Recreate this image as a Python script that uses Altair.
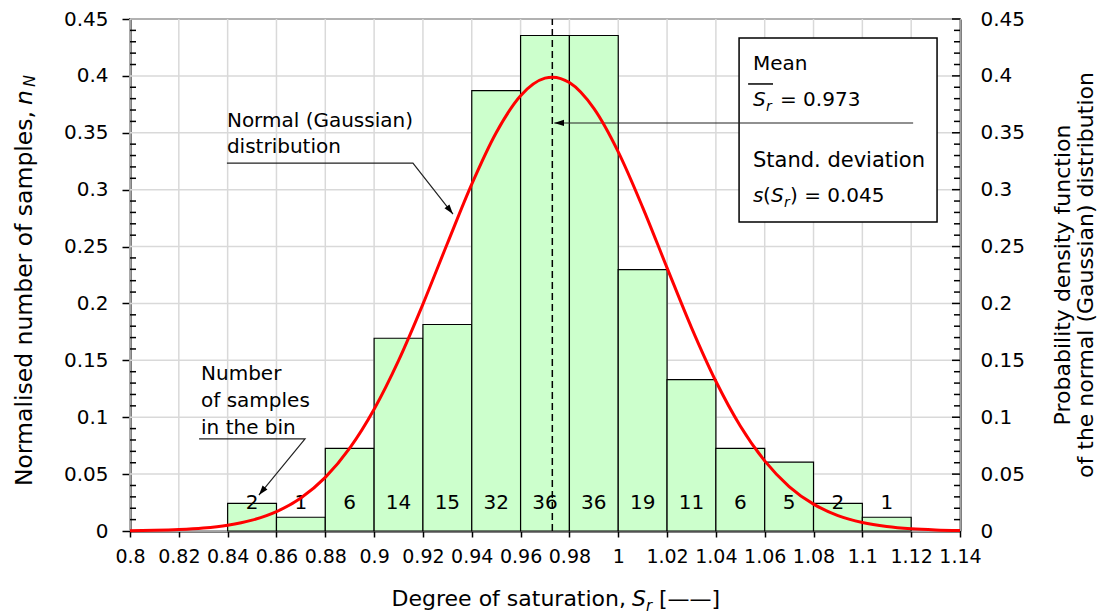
import altair as alt
import pandas as pd

FONT = "DejaVu Sans"

# ---------------- data ----------------
bin_start = [0.84, 0.86, 0.88, 0.90, 0.92, 0.94, 0.96, 0.98, 1.00, 1.02, 1.04, 1.06, 1.08, 1.10]
bin_end = [0.86, 0.88, 0.90, 0.92, 0.94, 0.96, 0.98, 1.00, 1.02, 1.04, 1.06, 1.08, 1.10, 1.12]
bin_count = [2, 1, 6, 14, 15, 32, 36, 36, 19, 11, 6, 5, 2, 1]
bin_norm = [0.0242, 0.0121, 0.0726, 0.1694, 0.1815, 0.3871, 0.4355, 0.4355,
            0.2298, 0.1331, 0.0726, 0.0605, 0.0242, 0.0121]

pdf_x = [0.80, 0.81, 0.82, 0.83, 0.84, 0.85, 0.86, 0.87, 0.88, 0.89, 0.90, 0.91,
         0.92, 0.93, 0.94, 0.95, 0.96, 0.97, 0.973, 0.98, 0.99, 1.00, 1.01, 1.02,
         1.03, 1.04, 1.05, 1.06, 1.07, 1.08, 1.09, 1.10, 1.11, 1.12, 1.13, 1.14]
pdf_y = [0.00025, 0.00056, 0.00123, 0.00255, 0.00506, 0.00953, 0.01704, 0.02903,
         0.0471, 0.0728, 0.107, 0.1497, 0.1994, 0.2527, 0.3049, 0.3501, 0.3826,
         0.3980, 0.3989, 0.3941, 0.3714, 0.3332, 0.2845, 0.2313, 0.1788, 0.1316,
         0.0923, 0.0616, 0.0391, 0.0236, 0.01357, 0.00744, 0.00388, 0.00192,
         0.00091, 0.00041]

mean_sr = 0.973
count_label_y = 0.0246

x_ticks = [0.80, 0.82, 0.84, 0.86, 0.88, 0.90, 0.92, 0.94, 0.96, 0.98, 1.00,
           1.02, 1.04, 1.06, 1.08, 1.10, 1.12, 1.14]
y_ticks = [0.0, 0.05, 0.10, 0.15, 0.20, 0.25, 0.30, 0.35, 0.40, 0.45]
y_minor = [0.01, 0.02, 0.03, 0.04, 0.06, 0.07, 0.08, 0.09, 0.11, 0.12, 0.13, 0.14,
           0.16, 0.17, 0.18, 0.19, 0.21, 0.22, 0.23, 0.24, 0.26, 0.27, 0.28, 0.29,
           0.31, 0.32, 0.33, 0.34, 0.36, 0.37, 0.38, 0.39, 0.41, 0.42, 0.43, 0.44]

# annotations, in data coordinates
note_text = ["Normal (Gaussian)", "distribution", "Number", "of samples", "in the bin"]
note_x = [0.8397, 0.8397, 0.8291, 0.8291, 0.8291]
note_y = [0.3551, 0.3322, 0.1327, 0.1090, 0.0853]

leader_x = [0.8397, 0.9159, 0.9323, 0.8283, 0.8717, 0.8528, 1.1208, 0.9738]
leader_y = [0.3234, 0.3234, 0.2786, 0.0809, 0.0809, 0.0316, 0.3586, 0.3586]
leader_grp = [0, 0, 0, 1, 1, 1, 2, 2]

arrow_x = [0.9323, 0.8528, 0.9738]
arrow_y = [0.2786, 0.0316, 0.3586]
arrow_ang = [232, 309, 0]

box_x = [1.0495, 1.1306]
box_y = [0.2716, 0.4333]
box_text_x = 1.0552
box_line_y = [0.4052, 0.3735, 0.3199, 0.2892]
overline_x = [1.0532, 1.0634]
overline_y = 0.3929

# ---------------- tables ----------------
hist = pd.DataFrame({"start": bin_start, "end": bin_end, "count": bin_count, "norm": bin_norm})
pdf = pd.DataFrame({"x": pdf_x, "y": pdf_y})
mean_df = pd.DataFrame({"m": [mean_sr]})
xgrid_df = pd.DataFrame({"v": x_ticks})
minor_df = pd.DataFrame({"v": y_minor})
major_df = pd.DataFrame({"v": y_ticks})
notes = pd.DataFrame({"t": note_text, "x": note_x, "y": note_y})
leaders = pd.DataFrame({"x": leader_x, "y": leader_y, "g": leader_grp,
                        "o": list(range(len(leader_x)))})
arrows = pd.DataFrame({"x": arrow_x, "y": arrow_y, "a": arrow_ang})
box = pd.DataFrame({"x0": [box_x[0]], "x1": [box_x[1]], "y0": [box_y[0]], "y1": [box_y[1]]})
overline = pd.DataFrame({"x0": [overline_x[0]], "x1": [overline_x[1]], "y": [overline_y]})
one = pd.DataFrame({"k": [0]})


def xs():
    return alt.Scale(domain=[0.8, 1.14], nice=False, zero=False)


def ys():
    return alt.Scale(domain=[0, 0.45], nice=False, zero=True)


x_axis = alt.Axis(values=x_ticks, format=".2~f", title=None, grid=False,
                  tickSize=6, labelPadding=10, labelFlush=False, labelOverlap=False,
                  domainWidth=2, labelFontSize=19, orient="bottom")
yl_axis = alt.Axis(values=y_ticks, format=".2~f", title=None, grid=False,
                   tickSize=8, labelPadding=14, labelOverlap=False, domainWidth=2,
                   labelFontSize=20, orient="left")
yr_axis = alt.Axis(orient="right", values=y_ticks, format=".2~f", title=None,
                   grid=False, ticks=False, labelPadding=20, labelOverlap=False,
                   domainWidth=2, labelFontSize=20)


def X(f):
    return alt.X(f, scale=xs(), axis=None)


def Y(f):
    return alt.Y(f, scale=ys(), axis=None)


GRID = "#d9d9d9"
vgrid = alt.Chart(xgrid_df).mark_rule(color=GRID, strokeWidth=1.5).encode(x=X("v:Q"))
hgrid = alt.Chart(major_df).mark_rule(color=GRID, strokeWidth=1.5).encode(y=Y("v:Q"))

bars = alt.Chart(hist).mark_rect(fill="#ccffcc", stroke="black", strokeWidth=1.2).encode(
    x=alt.X("start:Q", scale=xs(), axis=x_axis),
    x2="end:Q",
    y=alt.Y("norm:Q", scale=ys(), axis=yl_axis),
    y2=alt.datum(0),
)

labels = alt.Chart(hist).transform_calculate(
    mid="(datum.start + datum.end) / 2", ly=str(count_label_y)
).mark_text(fontSize=20, baseline="middle", font=FONT, color="black").encode(
    x=X("mid:Q"), y=Y("ly:Q"), text="count:Q"
)

mean_line = alt.Chart(mean_df).transform_calculate(y0="0", y1="0.45").mark_rule(
    color="black", strokeWidth=1.5, strokeDash=[7, 4]
).encode(x=X("m:Q"), y=Y("y0:Q"), y2="y1:Q")

box_rect = alt.Chart(box).mark_rect(fill="white", stroke="black", strokeWidth=1.5).encode(
    x=X("x0:Q"), x2="x1:Q", y=Y("y0:Q"), y2="y1:Q"
)

leader_lines = alt.Chart(leaders).mark_line(color="#222222", strokeWidth=1.2).encode(
    x=X("x:Q"), y=Y("y:Q"), detail="g:N", order="o:Q"
)

arrow_heads = alt.Chart(arrows).mark_point(
    shape="M0,0L1,-0.32L1,0.32Z", filled=True, color="black", opacity=1, size=380
).encode(x=X("x:Q"), y=Y("y:Q"), angle=alt.Angle("a:Q", scale=None))

note_marks = alt.Chart(notes).mark_text(
    align="left", baseline="alphabetic", fontSize=20, font=FONT, color="black"
).encode(x=X("x:Q"), y=Y("y:Q"), text="t:N")

minor_left = alt.Chart(minor_df).mark_rule(color="black", strokeWidth=1.5).encode(
    y=Y("v:Q"), x=alt.value(0), x2=alt.value(6)
)
minor_right = alt.Chart(minor_df).mark_rule(color="black", strokeWidth=1.5).encode(
    y=Y("v:Q"), x=alt.value(824), x2=alt.value(830)
)
major_right = alt.Chart(major_df).mark_rule(color="black", strokeWidth=1.5).encode(
    y=Y("v:Q"), x=alt.value(822), x2=alt.value(830)
)

overline_mark = alt.Chart(overline).mark_rule(color="black", strokeWidth=1.5).encode(
    x=X("x0:Q"), x2="x1:Q", y=Y("y:Q")
)


def box_piece(text, line, dx=0, dy=0, size=20, italic=False):
    df = pd.DataFrame({"x": [box_text_x], "y": [box_line_y[line]], "t": [text]})
    return alt.Chart(df).mark_text(
        align="left", baseline="alphabetic", dx=dx, dy=dy, fontSize=size,
        fontStyle="italic" if italic else "normal", font=FONT, color="black"
    ).encode(x=X("x:Q"), y=Y("y:Q"), text="t:N")


box_texts = [
    box_piece("Mean", 0),
    box_piece("S", 1, italic=True),
    box_piece("r", 1, dx=13, dy=5, size=14, italic=True),
    box_piece("= 0.973", 1, dx=27),
    box_piece("Stand. deviation", 2, size=21),
    box_piece("s", 3, italic=True),
    box_piece("(", 3, dx=10),
    box_piece("S", 3, dx=18, italic=True),
    box_piece("r", 3, dx=31, dy=5, size=14, italic=True),
    box_piece(") = 0.045", 3, dx=37),
]


def title_piece(text, px, py, size, italic=False, align="left", angle=0, dy=0):
    return alt.Chart(one).mark_text(
        text=text, align=align, baseline="alphabetic", fontSize=size,
        fontStyle="italic" if italic else "normal", angle=angle, dy=dy,
        font=FONT, color="black"
    ).encode(x=alt.value(px), y=alt.value(py))


titles = [
    title_piece("Degree of saturation,", 496, 587, 22, align="right"),
    title_piece("S", 502, 587, 22, italic=True),
    title_piece("r", 516, 587, 15, italic=True, dy=5),
    title_piece("[\u2014\u2014]", 529, 587, 22),
    title_piece("Normalised number of samples,", -98, 92, 23.5, align="right", angle=270),
    title_piece("n", -98, 86, 23.5, italic=True, angle=270),
    title_piece("N", -98, 68, 16, italic=True, angle=270, dy=3),
    title_piece("Probability density function", 940, 256, 22, align="center", angle=270),
    title_piece("of the normal (Gaussian) distribution", 963, 256, 22, align="center", angle=270),
]

curve = alt.Chart(pdf).mark_line(color="#ff0000", strokeWidth=3, interpolate="monotone").encode(
    x=alt.X("x:Q", scale=xs(), axis=None),
    y=alt.Y("y:Q", scale=ys(), axis=yr_axis),
)

chart = alt.layer(
    vgrid, hgrid, bars, labels, mean_line, box_rect, leader_lines, arrow_heads,
    note_marks, minor_left, minor_right, major_right, overline_mark, curve,
    *box_texts, *titles
).resolve_scale(x="independent", y="independent").properties(
    width=830, height=512,
    padding={"left": 122, "top": 11, "right": 139, "bottom": 88},
    autosize=alt.AutoSizeParams(type="none"),
).configure_view(stroke="black", strokeWidth=1.5).configure_axis(
    labelFont=FONT, labelColor="black", domainColor="black",
    tickColor="black", tickWidth=1.5
)

chart.save("out.html", embed_options={"renderer": "svg", "actions": False})
